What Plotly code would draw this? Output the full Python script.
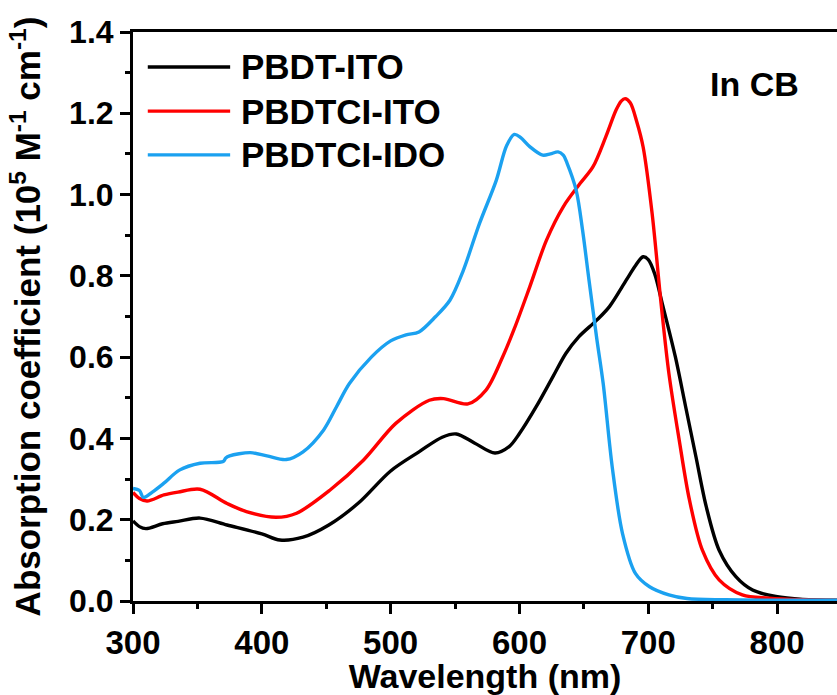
import plotly.graph_objects as go

# ---- data ----
wl_pbdt_ito = [300, 305, 310, 323, 335, 352, 373, 400, 414, 432, 452, 475, 500, 522, 540, 551, 565, 581,
               592, 600, 613, 626, 636, 646, 660, 670, 683, 690, 696, 700, 705, 711, 721, 729, 737, 745, 755,
               768, 781, 799, 820, 850]
abs_pbdt_ito = [0.197, 0.183, 0.178, 0.190, 0.196, 0.204, 0.187, 0.165, 0.150, 0.157, 0.187, 0.241, 0.320,
                0.367, 0.403, 0.411, 0.389, 0.364, 0.380, 0.412, 0.478, 0.552, 0.609, 0.650, 0.691, 0.725,
                0.790, 0.825, 0.847, 0.840, 0.805, 0.730, 0.601, 0.478, 0.355, 0.232, 0.125, 0.060, 0.027,
                0.011, 0.004, 0.002]

wl_pbdtci_ito = [300, 305, 311, 324, 335, 352, 373, 388, 411, 427, 453, 479, 504, 530, 541, 560, 574, 587, 596,
                 608, 621, 634, 647, 657, 667, 675, 679, 682, 686, 691, 696, 703, 710, 716, 724, 732, 742, 755,
                 773, 794, 820, 850]
abs_pbdtci_ito = [0.267, 0.252, 0.246, 0.261, 0.268, 0.275, 0.240, 0.220, 0.206, 0.216, 0.273, 0.347, 0.437,
                  0.494, 0.498, 0.485, 0.519, 0.601, 0.670, 0.773, 0.888, 0.970, 1.027, 1.068, 1.142, 1.208,
                  1.230, 1.236, 1.226, 1.180, 1.117, 0.953, 0.730, 0.560, 0.396, 0.248, 0.125, 0.052, 0.015,
                  0.007, 0.003, 0.001]

wl_pbdtci_ido = [300, 305, 308, 315, 324, 336, 352, 370, 372, 375, 391, 404, 419, 432, 448, 458, 468, 485, 500,
                 512, 522, 535, 546, 556, 569, 582, 590, 596, 601, 608, 618, 624, 630, 634, 637, 644, 649, 654,
                 660, 665, 672, 680, 690, 701, 716, 730, 760, 850]
abs_pbdtci_ido = [0.277, 0.272, 0.255, 0.268, 0.290, 0.322, 0.339, 0.343, 0.352, 0.357, 0.365, 0.357, 0.348,
                  0.367, 0.421, 0.478, 0.535, 0.600, 0.640, 0.655, 0.662, 0.700, 0.740, 0.810, 0.929, 1.035,
                  1.120, 1.148, 1.140, 1.118, 1.097, 1.100, 1.105, 1.097, 1.077, 1.011, 0.912, 0.789, 0.646,
                  0.535, 0.330, 0.166, 0.068, 0.035, 0.015, 0.006, 0.003, 0.002]

series_names = ["PBDT-ITO", "PBDTCI-ITO", "PBDTCI-IDO"]
series_colors = ["#000000", "#ff0000", "#1ba1f0"]
x_ticks = [300, 400, 500, 600, 700, 800]
y_ticks = [0.0, 0.2, 0.4, 0.6, 0.8, 1.0, 1.2, 1.4]

FONT = "Liberation Sans"

fig = go.Figure()
for name, xs, ys, col in zip(series_names,
                             [wl_pbdt_ito, wl_pbdtci_ito, wl_pbdtci_ido],
                             [abs_pbdt_ito, abs_pbdtci_ito, abs_pbdtci_ido],
                             series_colors):
    fig.add_trace(go.Scatter(x=xs, y=ys, mode="lines", name=name,
                             line=dict(color=col, width=3.4, shape="spline", smoothing=0.9),
                             showlegend=False))

# manual legend (long line samples like the reference)
leg_y = [0.9385, 0.861, 0.784]
for name, col, yy in zip(series_names, series_colors, leg_y):
    fig.add_shape(type="line", xref="paper", yref="paper", x0=0.021, x1=0.138, y0=yy, y1=yy,
                  line=dict(color=col, width=3.4))
    fig.add_annotation(xref="paper", yref="paper", x=0.150, y=yy, text=name, showarrow=False,
                       xanchor="left", yanchor="middle",
                       font=dict(family=FONT, size=35, color="#000000", weight="bold"))

fig.add_annotation(xref="paper", yref="paper", x=0.883, y=0.909, text="In CB", showarrow=False,
                   xanchor="center", yanchor="middle",
                   font=dict(family=FONT, size=34, color="#000000", weight="bold"))

axis_common = dict(showgrid=False, zeroline=False, showline=True, linecolor="#000000", linewidth=3,
                   ticks="outside", ticklen=10, tickwidth=3, tickcolor="#000000")

fig.update_xaxes(range=[300, 846.5], tickvals=x_ticks, mirror=True,
                 tickfont=dict(family=FONT, size=33, color="#000000", weight="bold"),
                 minor=dict(ticks="outside", dtick=50, ticklen=5, tickwidth=3, tickcolor="#000000"),
                 title=dict(text="Wavelength (nm)", standoff=4,
                            font=dict(family=FONT, size=34, color="#000000", weight="bold")),
                 **axis_common)
fig.update_yaxes(range=[0, 1.4], tickvals=y_ticks, tickformat=".1f",
                 tickfont=dict(family=FONT, size=32, color="#000000", weight="bold"),
                 minor=dict(ticks="outside", dtick=0.1, ticklen=5, tickwidth=3, tickcolor="#000000"),
                 title=dict(text="Absorption coefficient (10<sup>5</sup> M<sup>-1</sup> cm<sup>-1</sup>)",
                            standoff=18,
                            font=dict(family=FONT, size=35, color="#000000", weight="bold")),
                 **axis_common)

fig.update_layout(width=837, height=695, margin=dict(l=133, r=0, t=32, b=94, autoexpand=False),
                  plot_bgcolor="white", paper_bgcolor="white")

fig.write_html("out.html", config={"displayModeBar": False},
               post_script="document.body.style.margin='0px';document.body.style.overflow='hidden';")
